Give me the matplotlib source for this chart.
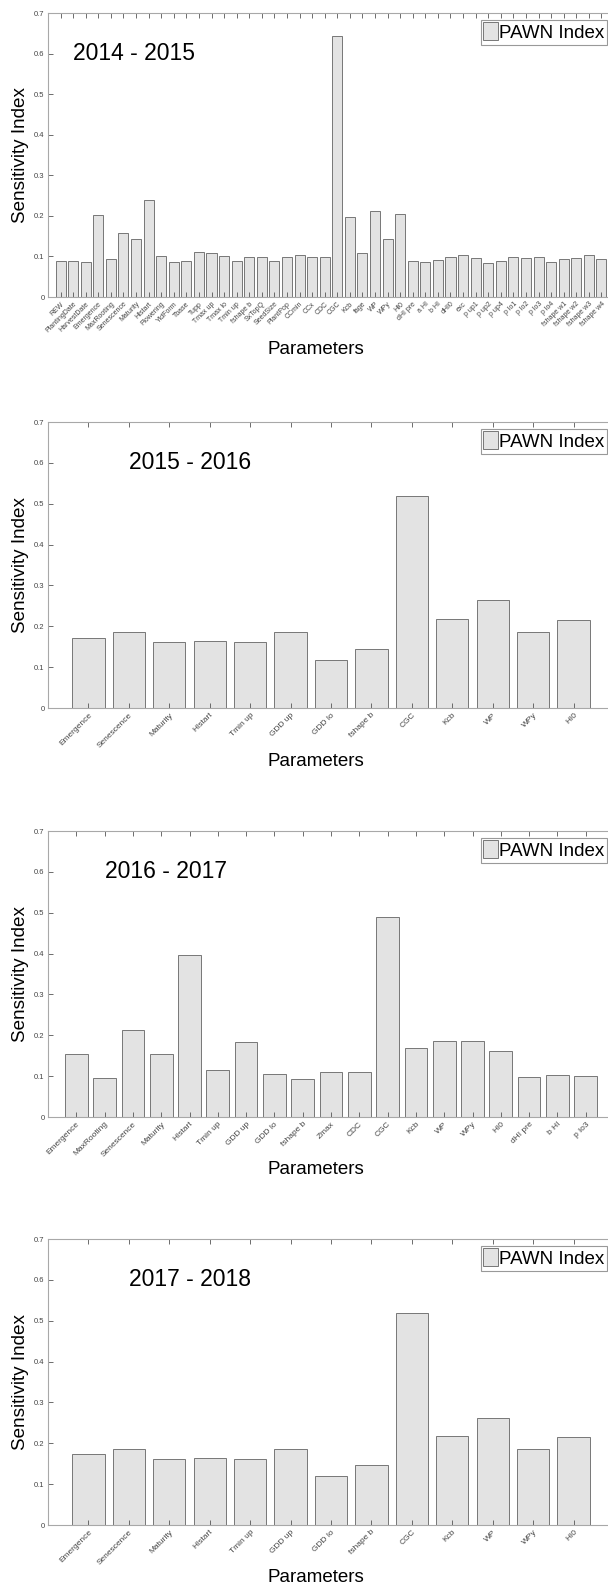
import numpy as np
import matplotlib
matplotlib.use("Agg")
import matplotlib.pyplot as plt

plt.rcParams['font.family'] = ['Liberation Sans', 'DejaVu Sans']

# PAWN sensitivity per season
params_1415 = ["REW", "PlantingDate", "HarvestDate", "Emergence", "MaxRooting",
               "Senescence", "Maturity", "HIstart", "Flowering", "YldForm",
               "Tbase", "Tupp", "Tmax up", "Tmax lo", "Tmin up", "fshape b",
               "SxTopQ", "SeedSize", "PlantPop", "CCmin", "CCx", "CDC", "CGC",
               "Kcb", "fage", "WP", "WPy", "HI0", "dHI pre", "a HI", "b HI",
               "dHI0", "exc", "p up1", "p up2", "p up4", "p lo1", "p lo2",
               "p lo3", "p lo4", "fshape w1", "fshape w2", "fshape w3", "fshape w4"]
pawn_1415 = [0.089, 0.088, 0.086, 0.203, 0.093, 0.157, 0.143, 0.238, 0.102, 0.086,
             0.089, 0.110, 0.108, 0.102, 0.088, 0.098, 0.098, 0.089, 0.098, 0.103,
             0.098, 0.098, 0.644, 0.197, 0.108, 0.211, 0.142, 0.204, 0.089, 0.086,
             0.091, 0.098, 0.103, 0.096, 0.083, 0.089, 0.098, 0.096, 0.098, 0.086,
             0.093, 0.096, 0.103, 0.093]

params_1516 = ["Emergence", "Senescence", "Maturity", "HIstart", "Tmin up", "GDD up",
               "GDD lo", "fshape b", "CGC", "Kcb", "WP", "WPy", "HI0"]
pawn_1516 = [0.172, 0.187, 0.162, 0.165, 0.161, 0.187, 0.118, 0.145, 0.519,
             0.218, 0.264, 0.187, 0.215]

params_1617 = ["Emergence", "MaxRooting", "Senescence", "Maturity", "HIstart",
               "Tmin up", "GDD up", "GDD lo", "fshape b", "Zmax", "CDC", "CGC",
               "Kcb", "WP", "WPy", "HI0", "dHI pre", "b HI", "p lo3"]
pawn_1617 = [0.154, 0.096, 0.214, 0.154, 0.396, 0.114, 0.184, 0.106, 0.094, 0.110,
             0.110, 0.489, 0.170, 0.185, 0.187, 0.162, 0.098, 0.103, 0.100]

params_1718 = ["Emergence", "Senescence", "Maturity", "HIstart", "Tmin up", "GDD up",
               "GDD lo", "fshape b", "CGC", "Kcb", "WP", "WPy", "HI0"]
pawn_1718 = [0.173, 0.187, 0.162, 0.165, 0.161, 0.187, 0.119, 0.146, 0.519,
             0.218, 0.263, 0.187, 0.216]

seasons = ["2014 - 2015", "2015 - 2016", "2016 - 2017", "2017 - 2018"]

W, H = 608, 1589
fig = plt.figure(figsize=(W / 100, H / 100), dpi=100)

# (top, bottom) of each axes box in pixels, and where "Parameters" sits
boxes = [(13, 297), (422, 708), (831, 1117), (1239, 1525)]
xlab_y = [350, 761, 1170, 1577]
xtick_size = [5.0, 6.0, 6.0, 6.0]
left_px, right_px = 48, 614

panels = [(params_1415, pawn_1415), (params_1516, pawn_1516),
          (params_1617, pawn_1617), (params_1718, pawn_1718)]

for i, (names, vals) in enumerate(panels):
    top, bot = boxes[i]
    ax = fig.add_axes([left_px / W, 1 - bot / H, (right_px - left_px) / W, (bot - top) / H])
    x = np.arange(1, len(names) + 1)
    ax.bar(x, vals, width=0.8, color="#e3e3e3", edgecolor="#777777", linewidth=0.7,
           label="PAWN Index")
    ax.set_xlim(0, len(names) + 1)
    ax.set_ylim(0, 0.7)
    ax.set_yticks(np.arange(0, 0.71, 0.1))
    ax.set_yticklabels(["0", "0.1", "0.2", "0.3", "0.4", "0.5", "0.6", "0.7"])
    ax.set_xticks(x)
    ax.set_xticklabels(names, rotation=45, ha="right", rotation_mode="anchor",
                       fontsize=xtick_size[i], color="#444444")
    ax.tick_params(axis="y", labelsize=5.5, labelcolor="#444444")
    ax.tick_params(direction="in", length=3.5, width=0.6, color="#555555",
                   top=True, right=True, pad=2.5)
    for s in ax.spines.values():
        s.set_color("#a8a8a8")
        s.set_linewidth(0.8)

    ax.text(2, 0.6, seasons[i], fontsize=16.5, va="center", ha="left")
    ax.set_ylabel("Sensitivity Index", fontsize=13.6, va="center")
    ax.yaxis.set_label_coords((21 - left_px) / (right_px - left_px), 0.5)
    ax.set_xlabel("Parameters", fontsize=13.5, va="center")
    ax.xaxis.set_label_coords((316 - left_px) / (right_px - left_px),
                              (bot - xlab_y[i]) / (bot - top))

    leg = ax.legend(loc="upper right", fontsize=13.5, fancybox=False,
                    handlelength=0.75, handleheight=1.1, handletextpad=0.1,
                    borderpad=0.15, borderaxespad=0.35, framealpha=1)
    leg.get_frame().set_edgecolor("#999999")
    leg.get_frame().set_linewidth(0.8)

fig.savefig("out.png", dpi=100)
